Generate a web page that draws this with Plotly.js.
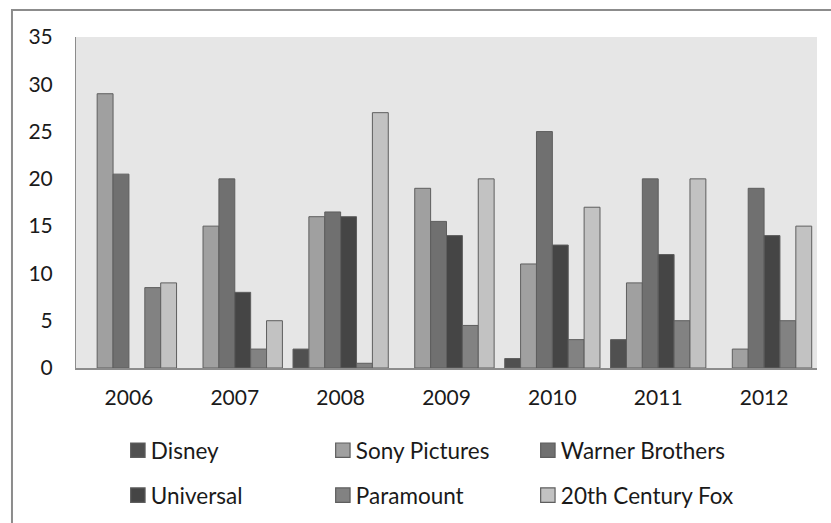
<!DOCTYPE html>
<html>
<head>
<meta charset="utf-8">
<script src="https://cdn.plot.ly/plotly-3.0.1.min.js"></script>
<style>html,body{margin:0;padding:0;background:#fff;}#chart{width:831px;height:523px;}</style>
</head>
<body>
<div id="chart"></div>
<script>
const years = ['2006','2007','2008','2009','2010','2011','2012'];
const disney    = [0, 0, 2, 0, 1, 3, 0];
const sony      = [29, 15, 16, 19, 11, 9, 2];
const warner    = [20.5, 20, 16.5, 15.5, 25, 20, 19];
const universal = [0, 8, 16, 14, 13, 12, 14];
const paramount = [8.5, 2, 0.5, 4.5, 3, 5, 5];
const fox       = [9, 5, 27, 20, 17, 20, 15];
const yTicks = [0, 5, 10, 15, 20, 25, 30, 35];

const FONT = 'Lato, "Open Sans", sans-serif';
const series = [
  {name: 'Disney', y: disney, color: '#505050', legend: 'legend'},
  {name: 'Sony Pictures', y: sony, color: '#a0a0a0', legend: 'legend'},
  {name: 'Warner Brothers', y: warner, color: '#707070', legend: 'legend'},
  {name: 'Universal', y: universal, color: '#454545', legend: 'legend2'},
  {name: 'Paramount', y: paramount, color: '#828282', legend: 'legend2'},
  {name: '20th Century Fox', y: fox, color: '#c2c2c2', legend: 'legend2'}
];
// zero values are not drawn as bars (no outline at the baseline)
const traces = series.map(s => ({
  type: 'bar', x: years, y: s.y.map(v => (v === 0 ? null : v)), name: s.name, legend: s.legend,
  marker: {color: s.color, line: {color: '#5e5e5e', width: 1}},
  hoverinfo: 'x+y+name'
}));

const legendCommon = {
  orientation: 'h', xanchor: 'left', yanchor: 'top',
  xref: 'container', yref: 'container',
  entrywidth: 160, entrywidthmode: 'pixels',
  font: {family: FONT, size: 22.5, color: '#1a1a1a'},
  bgcolor: 'rgba(0,0,0,0)', itemclick: false, itemdoubleclick: false
};

const layout = {
  width: 831, height: 523,
  margin: {l: 76, r: 14, t: 37, b: 155, pad: 0},
  paper_bgcolor: '#ffffff', plot_bgcolor: '#e6e6e6',
  barmode: 'group', bargap: 0.1, bargroupgap: 0,
  font: {family: FONT, size: 21, color: '#1a1a1a'},
  showlegend: true,
  xaxis: {
    type: 'category', showgrid: false, zeroline: false,
    showline: true, linecolor: '#8c8c8c', linewidth: 1.5,
    ticks: '', ticklabelstandoff: 10,
    tickfont: {family: FONT, size: 21, color: '#1a1a1a'}
  },
  yaxis: {
    range: [0, 35], tickvals: yTicks, ticktext: yTicks.map(String),
    showgrid: false, zeroline: false,
    showline: true, linecolor: '#8c8c8c', linewidth: 1,
    ticks: '', ticklabelstandoff: 18,
    tickfont: {family: FONT, size: 21, color: '#1a1a1a'}
  },
  legend: Object.assign({}, legendCommon, {x: 0.1334, y: 0.1796}),
  legend2: Object.assign({}, legendCommon, {x: 0.1334, y: 0.0937}),
  shapes: [{
    type: 'rect', xref: 'paper', yref: 'paper',
    x0: -0.0864, x1: 1.2, y0: -0.7, y1: 1.0816,
    line: {color: '#8c8c8c', width: 2}, fillcolor: 'rgba(0,0,0,0)', layer: 'below'
  }]
};

Plotly.newPlot('chart', traces, layout, {displayModeBar: false, staticPlot: true}).then(gd => {
  // Let the long last label show in full
  gd.querySelectorAll('.scrollbox').forEach(e => e.removeAttribute('clip-path'));
  // Enlarge legend swatches and place them closer to their labels
  gd.querySelectorAll('.legendpoints path').forEach(p => {
    p.setAttribute('transform', 'translate(27,0) scale(1.2)');
  });
});
</script>
</body>
</html>
